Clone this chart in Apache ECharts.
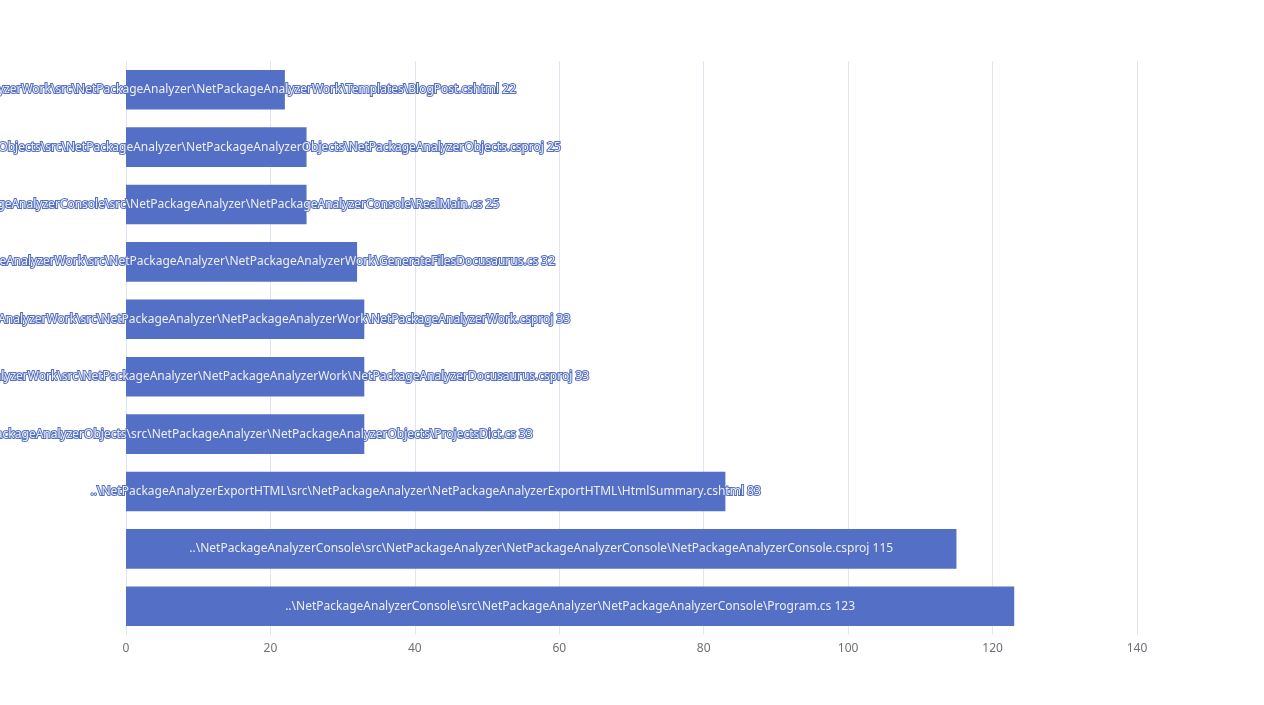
<!DOCTYPE html>
<html>
<head>
<meta charset="utf-8">
<title>Files</title>
<script src="https://cdn.jsdelivr.net/npm/echarts@6/dist/echarts.min.js"></script>
<style>
html, body { margin:0; padding:0; background:#fff; }
#main { width:1264px; height:705px; }
</style>
</head>
<body>
<div id="main"></div>
<script>
// files, bottom to top
var fileNames = [
	'..\\NetPackageAnalyzerConsole\\src\\NetPackageAnalyzer\\NetPackageAnalyzerConsole\\Program.cs',
	'..\\NetPackageAnalyzerConsole\\src\\NetPackageAnalyzer\\NetPackageAnalyzerConsole\\NetPackageAnalyzerConsole.csproj',
	'..\\NetPackageAnalyzerExportHTML\\src\\NetPackageAnalyzer\\NetPackageAnalyzerExportHTML\\HtmlSummary.cshtml',
	'..\\NetPackageAnalyzerObjects\\src\\NetPackageAnalyzer\\NetPackageAnalyzerObjects\\ProjectsDict.cs',
	'..\\NetPackageAnalyzerWork\\src\\NetPackageAnalyzer\\NetPackageAnalyzerWork\\NetPackageAnalyzerDocusaurus.csproj',
	'..\\NetPackageAnalyzerWork\\src\\NetPackageAnalyzer\\NetPackageAnalyzerWork\\NetPackageAnalyzerWork.csproj',
	'..\\NetPackageAnalyzerWork\\src\\NetPackageAnalyzer\\NetPackageAnalyzerWork\\GenerateFilesDocusaurus.cs',
	'..\\NetPackageAnalyzerConsole\\src\\NetPackageAnalyzer\\NetPackageAnalyzerConsole\\RealMain.cs',
	'..\\NetPackageAnalyzerObjects\\src\\NetPackageAnalyzer\\NetPackageAnalyzerObjects\\NetPackageAnalyzerObjects.csproj',
	'..\\NetPackageAnalyzerWork\\src\\NetPackageAnalyzer\\NetPackageAnalyzerWork\\Templates\\BlogPost.cshtml'
];
var fileCounts = [123, 115, 83, 33, 33, 33, 32, 25, 25, 22];
var xTicks = [0, 20, 40, 60, 80, 100, 120, 140];

var myChart = echarts.init(document.getElementById('main'));
myChart.setOption({
	textStyle: { fontFamily: 'Noto Sans, sans-serif' },
	grid: { left: 126, right: 127, top: 61, bottom: 70 },
	xAxis: {
		type: 'value', min: xTicks[0], max: xTicks[xTicks.length - 1], interval: 20,
		axisLabel: { color: '#6e7079', fontSize: 12 },
		splitLine: { lineStyle: { color: '#e0e6f1' } }
	},
	yAxis: {
		type: 'category', data: fileNames,
		axisLabel: { show: false }, axisTick: { show: false }, axisLine: { show: false }
	},
	series: [{
		type: 'bar', data: fileCounts, barCategoryGap: '31%',
		itemStyle: { color: '#5470c6' },
		label: { show: true, position: 'inside', formatter: '{b} {c}', fontSize: 12 }
	}]
});
</script>
</body>
</html>
